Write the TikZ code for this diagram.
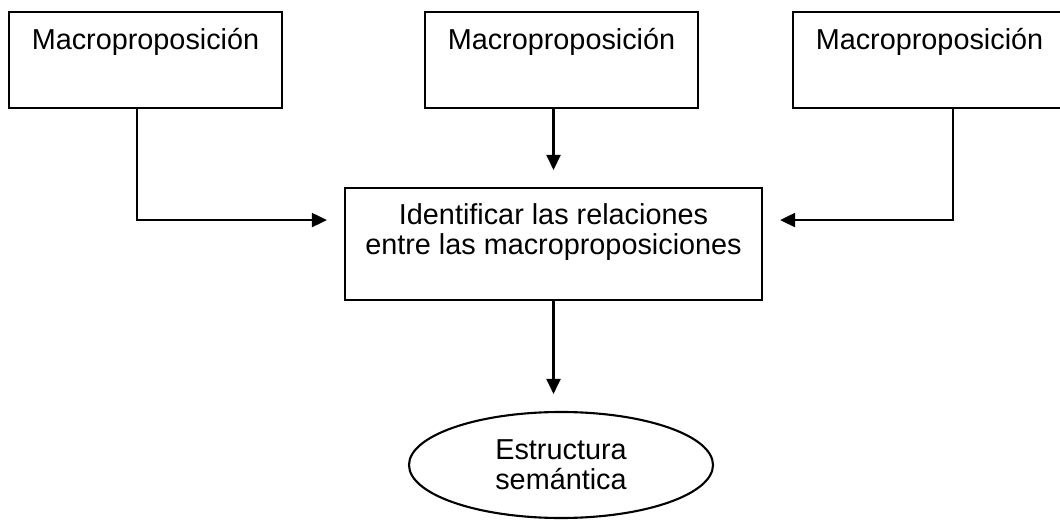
\documentclass[tikz,border=0pt]{standalone}
\usepackage{fontspec}
\setmainfont{Liberation Sans}
\usetikzlibrary{shapes.geometric,arrows.meta}

\begin{document}
\begin{tikzpicture}[
    txt/.style={font=\fontsize{20.5}{21.3}\selectfont},
    macrobox/.style={txt, draw, line width=1.5pt, inner xsep=0pt, inner ysep=0pt,
        minimum width=6.825cm, text height=0.925cm, text depth=1.475cm, anchor=north},
    relbox/.style={txt, draw, line width=1.5pt, inner xsep=0pt, inner ysep=0pt, align=center,
        minimum width=10.425cm, text height=1.65cm, text depth=1.15cm, anchor=north},
    ovalo/.style={txt, draw, ellipse, line width=1.5pt, inner sep=0pt, align=center,
        minimum width=7.6cm, minimum height=2.65cm},
    flecha/.style={line width=1.5pt, -{Triangle[length=0.375cm,width=0.35cm]}, shorten >=0.425cm}
  ]

  \useasboundingbox (0,0) rectangle (26.5,-13);

% Macroproposiciones
  \node[macrobox] (izq) at (3.6375,-0.275) {Macroproposición};
  \node[macrobox] (cen) at (14.0375,-0.275) {Macroproposición};
  \node[macrobox] (der) at (23.2375,-0.275) {Macroproposición};

  \node[relbox] (rel) at (13.8375,-4.675) {Identificar las relaciones\\entre las macroproposiciones};

  \node[ovalo] (est) at (14.025,-11.625) {Estructura\\semántica};

% Flechas
  \draw[flecha] ([xshift=-0.2125cm]izq.south) |- ([yshift=0.6cm]rel.west);
  \draw[flecha] ([xshift=0.5875cm]der.south) |- ([yshift=0.6cm]rel.east);
  \draw[flecha] (cen.south -| rel.north) -- (rel.north);
  \draw[flecha] (rel.south) -- (rel.south |- est.north);

\end{tikzpicture}
\end{document}
